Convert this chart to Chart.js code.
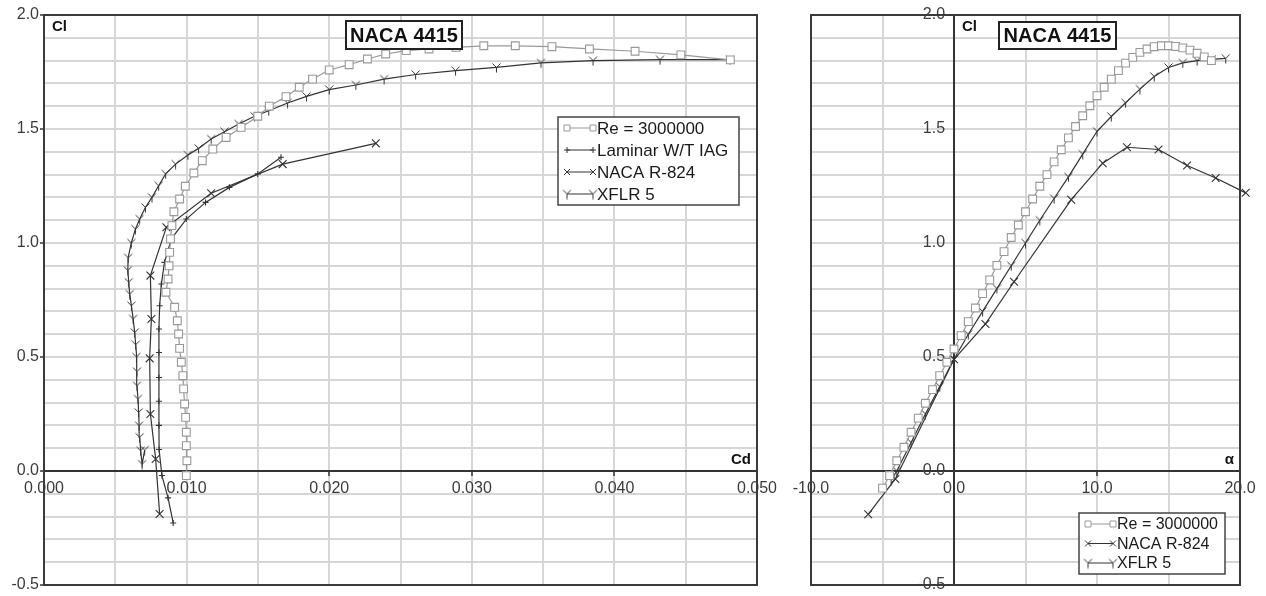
<!DOCTYPE html>
<html>
<head>
<meta charset="utf-8">
<script src="https://cdn.jsdelivr.net/npm/chart.js@4/dist/chart.umd.min.js"></script>
<style>
body { margin: 0; background: #fff; }
#wrap { position: relative; width: 1266px; height: 596px; overflow: hidden; }
canvas { position: absolute; top: 0; }
#polar { left: 0; }
#lift { left: 780px; }
</style>
</head>
<body>
<div id="wrap">
<canvas id="polar" width="790" height="596"></canvas>
<canvas id="lift" width="486" height="596"></canvas>
</div>
<script>
// ---- data ----
const seriesNames = ['Re = 3000000', 'Laminar W/T IAG', 'NACA R-824', 'XFLR 5'];
const titleText = 'NACA 4415';

// tick labels
const clLabels = [-0.5, 0, 0.5, 1, 1.5, 2];
const cdLabels = [0, 0.01, 0.02, 0.03, 0.04, 0.05];
const alphaLabels = [-10, 0, 10, 20];

// drag polar (Cl vs Cd)
const polarReCd = [0.00998, 0.01002, 0.00998, 0.00998, 0.00993, 0.00986, 0.00979, 0.00974, 0.00963, 0.00951, 0.00944, 0.00935, 0.00916, 0.00855, 0.00870, 0.00877, 0.00881, 0.00887, 0.00897, 0.00911, 0.00951, 0.00991, 0.01051, 0.01110, 0.01184, 0.01277, 0.01382, 0.01499, 0.01580, 0.01697, 0.01790, 0.01883, 0.02000, 0.02140, 0.02268, 0.02396, 0.02540, 0.02700, 0.02890, 0.03084, 0.03305, 0.03562, 0.03825, 0.04145, 0.04466, 0.04813];
const polarReCl = [-0.02, 0.045, 0.111, 0.17, 0.235, 0.294, 0.36, 0.418, 0.477, 0.538, 0.601, 0.659, 0.718, 0.784, 0.842, 0.90, 0.959, 1.018, 1.076, 1.137, 1.193, 1.249, 1.307, 1.361, 1.412, 1.463, 1.507, 1.556, 1.60, 1.642, 1.683, 1.719, 1.759, 1.782, 1.807, 1.829, 1.844, 1.851, 1.858, 1.865, 1.865, 1.861, 1.851, 1.841, 1.825, 1.803];

const polarLamCd = [0.00906, 0.00870, 0.00827, 0.00807, 0.00806, 0.00806, 0.00806, 0.00806, 0.00806, 0.00811, 0.00823, 0.00845, 0.00893, 0.00998, 0.01133, 0.01300, 0.01499, 0.01662];
const polarLamCl = [-0.228, -0.118, -0.02, 0.094, 0.200, 0.306, 0.410, 0.520, 0.623, 0.725, 0.820, 0.915, 1.018, 1.105, 1.178, 1.244, 1.303, 1.376];

const polarNacaCd = [0.00811, 0.00783, 0.00746, 0.00741, 0.00753, 0.00746, 0.00858, 0.01172, 0.01674, 0.02327];
const polarNacaCl = [-0.189, 0.053, 0.250, 0.494, 0.667, 0.857, 1.069, 1.218, 1.346, 1.437];

const polarXflrCd = [0.00706, 0.00688, 0.00678, 0.00671, 0.00667, 0.00664, 0.00659, 0.00652, 0.00652, 0.00648, 0.00643, 0.00636, 0.00625, 0.00613, 0.00601, 0.00594, 0.00588, 0.00590, 0.00612, 0.00641, 0.00671, 0.00711, 0.00757, 0.00804, 0.00853, 0.00923, 0.01009, 0.01084, 0.01172, 0.01266, 0.01366, 0.01476, 0.01576, 0.01708, 0.01841, 0.02000, 0.02187, 0.02385, 0.02606, 0.02886, 0.03173, 0.03485, 0.03850, 0.04320, 0.04810];
const polarXflrCl = [0.092, 0.030, 0.089, 0.148, 0.199, 0.257, 0.316, 0.374, 0.436, 0.500, 0.554, 0.608, 0.667, 0.725, 0.776, 0.828, 0.880, 0.935, 1.000, 1.061, 1.105, 1.156, 1.200, 1.251, 1.303, 1.346, 1.386, 1.415, 1.456, 1.488, 1.522, 1.556, 1.580, 1.614, 1.643, 1.673, 1.693, 1.719, 1.739, 1.756, 1.770, 1.790, 1.800, 1.804, 1.804];

// lift curve (Cl vs alpha)
const liftReAlpha = [-5, -4.5, -4, -3.5, -3, -2.5, -2, -1.5, -1, -0.5, 0, 0.5, 1, 1.5, 2, 2.5, 3, 3.5, 4, 4.5, 5, 5.5, 6, 6.5, 7, 7.5, 8, 8.5, 9, 9.5, 10, 10.5, 11, 11.5, 12, 12.5, 13, 13.5, 14, 14.5, 15, 15.5, 16, 16.5, 17, 17.5, 18];
const liftReCl = [-0.075, -0.02, 0.045, 0.104, 0.17, 0.232, 0.297, 0.357, 0.418, 0.477, 0.535, 0.594, 0.655, 0.715, 0.778, 0.838, 0.902, 0.962, 1.024, 1.079, 1.137, 1.193, 1.249, 1.300, 1.356, 1.409, 1.461, 1.511, 1.558, 1.602, 1.646, 1.683, 1.719, 1.756, 1.789, 1.814, 1.836, 1.851, 1.861, 1.865, 1.865, 1.862, 1.856, 1.846, 1.832, 1.816, 1.800];

const liftNacaAlpha = [-6.0, -4.1, 0.0, 2.2, 4.2, 8.2, 10.4, 12.1, 14.3, 16.3, 18.3, 20.4];
const liftNacaCl = [-0.19, -0.035, 0.49, 0.645, 0.83, 1.19, 1.35, 1.42, 1.41, 1.34, 1.285, 1.22];

const liftXflrAlpha = [-4.4, -4, -3, -2, -1, 0, 1, 2, 3, 4, 5, 6, 7, 8, 9, 10, 11, 12, 13, 14, 15, 16, 17, 18, 19];
const liftXflrCl = [-0.04, 0.0, 0.125, 0.25, 0.37, 0.49, 0.60, 0.70, 0.80, 0.90, 1.00, 1.10, 1.195, 1.29, 1.39, 1.49, 1.555, 1.615, 1.675, 1.73, 1.77, 1.79, 1.80, 1.805, 1.81];

// ---- drawing ----
const FONT = "'Liberation Sans', Arial, sans-serif";

function yMark() {
	const c = document.createElement('canvas');
	c.width = 11; c.height = 11;
	const g = c.getContext('2d');
	g.strokeStyle = '#333';
	g.lineWidth = 1;
	g.beginPath();
	g.moveTo(1.5, 1.5); g.lineTo(5.5, 5.5); g.lineTo(9.5, 1.5);
	g.moveTo(5.5, 5.5); g.lineTo(5.5, 10.5);
	g.stroke();
	return c;
}

const looks = [
	{ color: '#999', point: 'rect', r: 5.5, bg: '#fff' },
	{ color: '#333', point: 'cross', r: 3 },
	{ color: '#333', point: 'crossRot', r: 5.5 },
	{ color: '#333', point: yMark(), r: 5 }
];

function series(i, xs, ys) {
	const s = looks[i];
	return {
		label: seriesNames[i],
		data: xs.map((x, k) => ({ x: x, y: ys[k] })),
		showLine: true,
		borderColor: s.color,
		borderWidth: 1.2,
		pointStyle: s.point,
		pointRadius: s.r,
		pointBorderColor: s.color,
		pointBackgroundColor: s.bg || s.color,
		pointBorderWidth: 1.1,
		tension: 0,
		clip: false
	};
}

function isLabel(list, v) {
	return list.some(l => Math.abs(l - v) < 1e-6);
}

function axis(opts) {
	return {
		type: 'linear',
		min: opts.min, max: opts.max,
		position: opts.position,
		afterFit: opts.afterFit,
		ticks: {
			stepSize: opts.step, autoSkip: false, maxTicksLimit: 200, maxRotation: 0,
			color: '#3c3c3c', font: { family: FONT, size: 16 }, padding: opts.padding,
			callback: v => isLabel(opts.labels, v) ? v.toFixed(opts.digits) + (opts.suffix || '') : ''
		},
		grid: {
			color: '#d6d6d6', lineWidth: 2, tickLength: 4, tickWidth: 1.5,
			tickColor: c => (opts.ticks !== false && c.tick && isLabel(opts.labels, c.tick.value)) ? '#333' : 'rgba(0,0,0,0)'
		},
		border: { color: '#333', width: 2 }
	};
}

function mark(ctx, style, x, y, r) {
	if (style instanceof HTMLCanvasElement) {
		ctx.drawImage(style, x - style.width / 2, y - style.height / 2);
		return;
	}
	ctx.beginPath();
	if (style === 'rect') {
		ctx.rect(x - r, y - r, 2 * r, 2 * r);
		ctx.fillStyle = '#fff';
		ctx.fill();
	} else if (style === 'cross') {
		ctx.moveTo(x - r, y); ctx.lineTo(x + r, y);
		ctx.moveTo(x, y - r); ctx.lineTo(x, y + r);
	} else {
		ctx.moveTo(x - r, y - r); ctx.lineTo(x + r, y + r);
		ctx.moveTo(x - r, y + r); ctx.lineTo(x + r, y - r);
	}
	ctx.stroke();
}

const frame = {
	id: 'frame',
	beforeDatasetsDraw(chart) {
		const { ctx, chartArea: a } = chart;
		ctx.save();
		ctx.strokeStyle = '#3a3a3a';
		ctx.lineWidth = 2;
		ctx.strokeRect(a.left, a.top, a.right - a.left, a.bottom - a.top);
		ctx.restore();
	}
};

const overlay = {
	id: 'overlay',
	afterDraw(chart, args, o) {
		const ctx = chart.ctx;
		ctx.save();
		ctx.textBaseline = 'middle';

		// axis names
		ctx.fillStyle = '#111';
		ctx.font = 'bold 15px ' + FONT;
		o.names.forEach(n => {
			ctx.textAlign = n.align;
			ctx.fillText(n.text, n.x, n.y);
		});

		// title box
		const t = o.title;
		ctx.fillStyle = '#fff';
		ctx.fillRect(t.x, t.y, t.w, t.h);
		ctx.strokeStyle = '#222';
		ctx.lineWidth = 2;
		ctx.strokeRect(t.x, t.y, t.w, t.h);
		ctx.fillStyle = '#111';
		ctx.font = 'bold 20px ' + FONT;
		ctx.textAlign = 'center';
		ctx.fillText(titleText, t.x + t.w / 2, t.y + t.h / 2 + 1);

		// legend
		const L = o.legend;
		ctx.fillStyle = '#fff';
		ctx.fillRect(L.x, L.y, L.w, L.h);
		ctx.strokeStyle = '#444';
		ctx.lineWidth = 1.5;
		ctx.strokeRect(L.x, L.y, L.w, L.h);
		ctx.font = L.size + 'px ' + FONT;
		ctx.textAlign = 'left';
		chart.data.datasets.forEach((ds, i) => {
			const y = L.y + L.first + i * L.row;
			const x0 = L.x + 9, x1 = L.x + L.sample;
			ctx.strokeStyle = ds.borderColor;
			ctx.lineWidth = 1;
			ctx.beginPath();
			ctx.moveTo(x0, y); ctx.lineTo(x1, y);
			ctx.stroke();
			mark(ctx, ds.pointStyle, x0, y, 3);
			mark(ctx, ds.pointStyle, x1, y, 3);
			ctx.fillStyle = '#1a1a1a';
			ctx.fillText(ds.label, x1 + 4, y + 1);
		});
		ctx.restore();
	}
};

new Chart(document.getElementById('polar'), {
	type: 'scatter',
	data: {
		datasets: [
			series(0, polarReCd, polarReCl),
			series(1, polarLamCd, polarLamCl),
			series(2, polarNacaCd, polarNacaCl),
			series(3, polarXflrCd, polarXflrCl)
		]
	},
	options: {
		responsive: false,
		animation: false,
		events: [],
		layout: { padding: { left: 0, top: 15, right: 33, bottom: 11 } },
		scales: {
			x: axis({ min: 0, max: 0.05, step: 0.005, labels: cdLabels, digits: 3, position: { y: 0 }, padding: 4 }),
			y: axis({ min: -0.5, max: 2, step: 0.1, labels: clLabels, digits: 1, position: 'left', padding: 1,
				afterFit: s => { s.width = 44; } })
		},
		plugins: {
			legend: { display: false },
			tooltip: { enabled: false },
			overlay: {
				names: [
					{ text: 'Cl', x: 52, y: 27, align: 'left' },
					{ text: 'Cd', x: 751, y: 460, align: 'right' }
				],
				title: { x: 346, y: 21, w: 116, h: 28 },
				legend: { x: 558, y: 117, w: 181, h: 88, first: 11, row: 22, sample: 35, size: 17 }
			}
		}
	},
	plugins: [frame, overlay]
});

new Chart(document.getElementById('lift'), {
	type: 'scatter',
	data: {
		datasets: [
			series(0, liftReAlpha, liftReCl),
			series(2, liftNacaAlpha, liftNacaCl),
			series(3, liftXflrAlpha, liftXflrCl)
		]
	},
	options: {
		responsive: false,
		animation: false,
		events: [],
		layout: { padding: { left: 31, top: 15, right: 26, bottom: 11 } },
		scales: {
			x: axis({ min: -10, max: 20, step: 5, labels: alphaLabels, digits: 1, position: { y: 0 }, padding: 4 }),
			y: axis({ min: -0.5, max: 2, step: 0.1, labels: clLabels, digits: 1, position: { x: 0 }, padding: 1,
				suffix: '  ', ticks: false })
		},
		plugins: {
			legend: { display: false },
			tooltip: { enabled: false },
			overlay: {
				names: [
					{ text: 'Cl', x: 182, y: 27, align: 'left' },
					{ text: 'α', x: 454, y: 460, align: 'right' }
				],
				title: { x: 219, y: 22, w: 117, h: 27 },
				legend: { x: 299, y: 513, w: 146, h: 61, first: 11, row: 19.5, sample: 34, size: 16 }
			}
		}
	},
	plugins: [frame, overlay]
});
</script>
</body>
</html>
